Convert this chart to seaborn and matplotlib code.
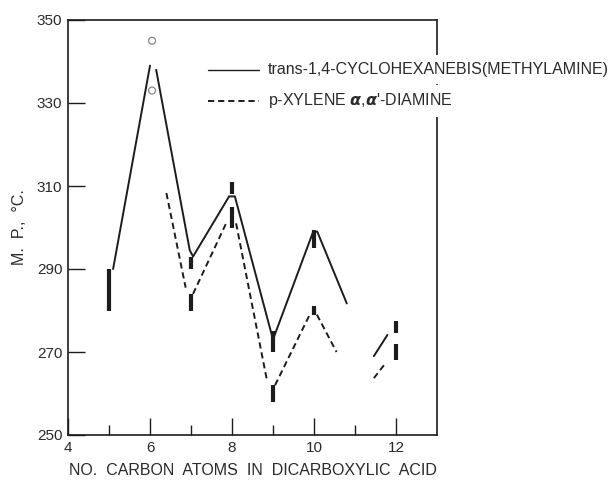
import numpy as np
import pandas as pd
import matplotlib
matplotlib.use("Agg")
import matplotlib.pyplot as plt
import seaborn as sns

# ---- data ----
# melting-point ranges (vertical bars)
cyclo_bar_x = [5, 7, 8, 9, 10, 12]
cyclo_bar_lo = [280, 290, 308, 270, 295, 274.5]
cyclo_bar_hi = [290, 293, 311, 275, 299.5, 277.5]
xyl_bar_x = [7, 8, 9, 10, 12]
xyl_bar_lo = [280, 300, 258, 279, 268]
xyl_bar_hi = [284, 305, 262, 281, 272]
# open circles at C6
circle_x = [6.05, 6.05]
circle_y = [345, 333]
# connecting line segments (segment id, x, y)
cyclo_seg = [0, 0, 1, 1, 1, 1, 1, 1, 1, 1, 1, 2, 2]
cyclo_x = [5.1, 6.0, 6.15, 6.97, 7.05, 7.93, 8.07, 9.0, 9.98, 10.08, 10.8, 11.46, 11.79]
cyclo_y = [290, 339, 338, 294.5, 293, 307.5, 307.5, 273, 299, 299, 281.7, 269, 274.1]
xyl_seg = [0, 0, 1, 1, 2, 2, 3, 3, 4, 4, 5, 5]
xyl_x = [6.4, 6.87, 7.05, 7.88, 8.1, 8.86, 9.05, 9.92, 10.07, 10.55, 11.46, 11.76]
xyl_y = [308.3, 285.5, 284, 301.5, 301, 262.8, 262, 279.5, 279, 270, 263.7, 267.5]
# legend keys
legend_x = [7.41, 8.66]
legend_y = [338, 330.5]
legend_labels = ["trans-1,4-CYCLOHEXANEBIS(METHYLAMINE)",
                 r"p-XYLENE $\boldsymbol{\alpha}$,$\boldsymbol{\alpha}$'-DIAMINE"]
x_major = [4, 6, 8, 10, 12]
x_minor = [5, 7, 9, 11]
y_ticks = [250, 270, 290, 310, 330, 350]

sns.set_style("ticks")
plt.rcParams["font.family"] = ["Liberation Sans", "DejaVu Sans"]
ink = "#1c1c1c"
txt = "#2a2a2a"

fig = plt.figure(figsize=(6.13, 4.8), dpi=100)
ax = fig.add_axes([68/613, 1-435/480, (437-68)/613, (435-20)/480])

cdf = pd.DataFrame({"seg": cyclo_seg, "x": cyclo_x, "y": cyclo_y})
xdf = pd.DataFrame({"seg": xyl_seg, "x": xyl_x, "y": xyl_y})
sns.lineplot(data=cdf, x="x", y="y", units="seg", estimator=None, sort=False,
             color=ink, linewidth=1.4, ax=ax)
sns.lineplot(data=xdf, x="x", y="y", units="seg", estimator=None, sort=False,
             color=ink, linewidth=1.4, linestyle=(0, (3.2, 2.0)), ax=ax)

ax.vlines(cyclo_bar_x, cyclo_bar_lo, cyclo_bar_hi, color=ink, linewidth=3.0)
ax.vlines(xyl_bar_x, xyl_bar_lo, xyl_bar_hi, color=ink, linewidth=3.0)

sns.scatterplot(x=circle_x, y=circle_y, marker="o", s=25, facecolor="none",
                edgecolor="#888888", linewidth=0.9, ax=ax)

# legend drawn as keys + text (text overlaps the frame)
ax.plot(legend_x, [legend_y[0]] * 2, color=ink, linewidth=1.0, clip_on=False)
ax.plot(legend_x, [legend_y[1]] * 2, color=ink, linewidth=1.4,
        linestyle=(0, (3.2, 2.0)), clip_on=False)
for yv, lab in zip(legend_y, legend_labels):
    ax.text(8.88, yv, lab, fontsize=11.5, color=txt, va="center", ha="left",
            clip_on=False, zorder=10,
            bbox=dict(facecolor="white", edgecolor="none", pad=5))

ax.set_xlim(4, 13)
ax.set_ylim(250, 350)
ax.set_xticks(x_major)
ax.set_xticks(x_minor, minor=True)
ax.set_yticks(y_ticks)
ax.tick_params(axis="both", which="major", direction="in", length=12,
               width=1.0, color=ink, labelsize=11, labelcolor=txt, pad=4)
ax.tick_params(axis="x", which="minor", direction="in", length=7, width=1.0, color=ink)
for s in ax.spines.values():
    s.set_visible(True)
    s.set_color(ink)
    s.set_linewidth(1.2)

ax.set_xlabel("NO.  CARBON  ATOMS  IN  DICARBOXYLIC  ACID", fontsize=11.5,
              color=txt, labelpad=6)
ax.set_ylabel("M.  P.,  °C.", fontsize=11.5, color=txt, labelpad=7)

fig.savefig("out.png", dpi=100)
